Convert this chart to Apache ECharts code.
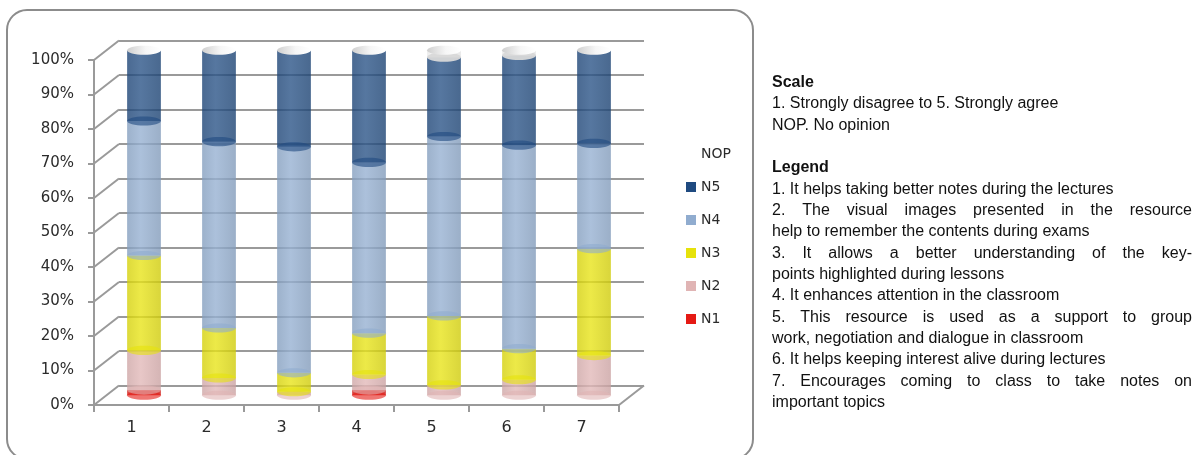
<!DOCTYPE html>
<html>
<head>
<meta charset="utf-8">
<script src="https://cdn.jsdelivr.net/npm/echarts@6/dist/echarts.min.js"></script>
<style>
  html, body { margin: 0; padding: 0; background: #ffffff; }
  #chart { width: 1200px; height: 455px; }
</style>
</head>
<body>
<div id="chart"></div>
<script>
// ---- data: share of answers per statement (percent, stacked to 100) ----
const categories = ['1', '2', '3', '4', '5', '6', '7'];
const n1  = [1.5, 0, 0, 1.5, 0, 0, 0];
const n2  = [11.5, 5, 1, 4.5, 3, 4.5, 11.5];
const n3  = [27.5, 14.5, 5.5, 12, 20, 9, 31];
const n4  = [39, 54, 65.5, 49.5, 52, 59, 30.5];
const n5  = [20.5, 26.5, 28, 32.5, 23, 26, 27];
const nop = [0, 0, 0, 0, 2, 1.5, 0];
const yTicks = [0, 10, 20, 30, 40, 50, 60, 70, 80, 90, 100];
const legendOrder = ['NOP', 'N5', 'N4', 'N3', 'N2', 'N1'];

// ---- side notes ----
const scaleTitle = 'Scale';
const scaleLines = ['1. Strongly disagree to 5. Strongly agree', 'NOP. No opinion'];
const legendTitle = 'Legend';
const statementLines = [
  ['1. It helps taking better notes during the lectures', false],
  ['2. The visual images presented in the resource', true],
  ['help to remember the contents during exams', false],
  ['3. It allows a better understanding of the key-', true],
  ['points highlighted during lessons', false],
  ['4. It enhances attention in the classroom', false],
  ['5. This resource is used as a support to group', true],
  ['work, negotiation and dialogue in classroom', false],
  ['6. It helps keeping interest alive during lectures', false],
  ['7. Encourages coming to class to take notes on', true],
  ['important topics', false]
];

// ---- styling ----
const seriesDefs = [
  { name: 'N1',  values: n1,  color: '#e51a14' },
  { name: 'N2',  values: n2,  color: '#e0b4b4' },
  { name: 'N3',  values: n3,  color: '#e6e20b' },
  { name: 'N4',  values: n4,  color: '#90accf' },
  { name: 'N5',  values: n5,  color: '#1f4a80' },
  { name: 'NOP', values: nop, color: '#ffffff' }
];
const GRID_COLOR = '#9a9a9a';
const LABEL_COLOR = '#2b2b2b';
const AXIS_FONT = 'DejaVu Sans';
const NOTE_FONT = 'Liberation Sans';
const DEPTH = [25, -19.5];      // offset of the back wall from the front axes
const FRONT = { left: 94, top: 60, width: 525, height: 345 };
const BAR_OPACITY = 0.8;

function shade(hex, amt) {
  const n = parseInt(hex.slice(1), 16);
  const r = n >> 16, g = (n >> 8) & 255, b = n & 255;
  const f = v => Math.max(0, Math.min(255, Math.round(amt < 0 ? v * (1 + amt) : v + (255 - v) * amt)));
  return 'rgb(' + f(r) + ',' + f(g) + ',' + f(b) + ')';
}

// stacked [category, from, to] rows per series
const cumulative = categories.map(() => 0);
const stacked = seriesDefs.map(def => def.values.map((v, i) => {
  const from = cumulative[i];
  cumulative[i] += v;
  return [i, from, cumulative[i]];
}));

function cylinderRenderer(color, isTop) {
  const body = new echarts.graphic.LinearGradient(0, 0, 1, 0, [
    { offset: 0, color: shade(color, -0.08) },
    { offset: 0.4, color: shade(color, 0.06) },
    { offset: 1, color: shade(color, -0.1) }
  ]);
  const cap = new echarts.graphic.LinearGradient(0, 0, 1, 0, [
    { offset: 0, color: '#cfcfcf' },
    { offset: 0.55, color: '#f6f6f6' },
    { offset: 1, color: '#ffffff' }
  ]);
  return function (params, api) {
    const cat = api.value(0), lo = api.value(1), hi = api.value(2);
    const pLo = api.coord([cat, lo]);
    const pHi = api.coord([cat, hi]);
    const rx = api.size([1, 0])[0] * 0.225;
    const ry = rx * 0.27;
    const cx = pLo[0];
    const children = [];
    if (hi - lo > 0) {
      children.push({
        type: 'rect',
        shape: { x: cx - rx, y: pHi[1], width: 2 * rx, height: pLo[1] - pHi[1] },
        style: { fill: body, opacity: isTop ? 0.95 : BAR_OPACITY }
      });
      children.push({
        type: 'ellipse',
        shape: { cx: cx, cy: pLo[1], rx: rx, ry: ry },
        style: { fill: isTop ? '#d8d8d8' : color, opacity: isTop ? 0.95 : 0.6 }
      });
    }
    if (isTop) {
      children.push({
        type: 'ellipse',
        shape: { cx: cx, cy: pHi[1], rx: rx, ry: ry },
        style: { fill: cap }
      });
    }
    return { type: 'group', children: children };
  };
}

// diagonal edges of the side wall and floor
function edgeRenderer(params, api) {
  const cat = api.value(0), v = api.value(1), side = api.value(2);
  const p = api.coord([cat, v]);
  const x0 = p[0] + side * api.size([1, 0])[0] / 2;
  return {
    type: 'line',
    shape: { x1: x0, y1: p[1], x2: x0 + DEPTH[0], y2: p[1] + DEPTH[1] },
    style: { stroke: GRID_COLOR, lineWidth: 2 }
  };
}

// justified note text built from individual words
const measureCtx = document.createElement('canvas').getContext('2d');
function noteElements() {
  const x0 = 772, width = 420, y0 = 82.5, pitch = 21.35;
  const els = [];
  const rows = [];
  rows.push({ text: scaleTitle, bold: true });
  scaleLines.forEach(t => rows.push({ text: t }));
  rows.push(null);
  rows.push({ text: legendTitle, bold: true });
  statementLines.forEach(s => rows.push({ text: s[0], justify: s[1] }));
  rows.forEach((row, i) => {
    if (!row) return;
    const y = y0 + i * pitch;
    const weight = row.bold ? 'bold' : 'normal';
    const style = { fill: '#111111', fontSize: 16, fontFamily: NOTE_FONT, fontWeight: weight,
                    verticalAlign: 'middle', align: 'left' };
    if (!row.justify) {
      els.push({ type: 'text', x: x0, y: y, silent: true, style: Object.assign({ text: row.text }, style) });
      return;
    }
    measureCtx.font = weight + ' 16px "' + NOTE_FONT + '"';
    const words = row.text.split(' ');
    const widths = words.map(w => measureCtx.measureText(w).width);
    const total = widths.reduce((a, b) => a + b, 0);
    const gap = (width - total) / (words.length - 1);
    let x = x0;
    words.forEach((w, k) => {
      els.push({ type: 'text', x: x, y: y, silent: true, style: Object.assign({ text: w }, style) });
      x += widths[k] + gap;
    });
  });
  return els;
}

const chart = echarts.init(document.getElementById('chart'));

const hiddenCat = { type: 'category', data: categories, show: false };
const hiddenVal = { type: 'value', min: 0, max: 100, interval: 10, show: false };

const option = {
  backgroundColor: '#ffffff',
  animation: false,
  grid: [
    // front axes
    { left: FRONT.left, top: FRONT.top, width: FRONT.width, height: FRONT.height },
    // back wall
    { left: FRONT.left + DEPTH[0], top: FRONT.top + DEPTH[1], width: FRONT.width, height: FRONT.height },
    // middle depth, where the cylinders stand
    { left: FRONT.left + DEPTH[0] / 2, top: FRONT.top + DEPTH[1] / 2, width: FRONT.width, height: FRONT.height }
  ],
  xAxis: [
    {
      gridIndex: 0, type: 'category', data: categories,
      axisLine: { lineStyle: { color: GRID_COLOR, width: 2 } },
      axisTick: { show: true, length: 7, lineStyle: { color: GRID_COLOR, width: 2 } },
      axisLabel: { color: LABEL_COLOR, fontFamily: AXIS_FONT, fontSize: 16, margin: 15 },
      splitLine: { show: false }
    },
    Object.assign({ gridIndex: 1 }, hiddenCat),
    Object.assign({ gridIndex: 2 }, hiddenCat)
  ],
  yAxis: [
    {
      gridIndex: 0, type: 'value', min: 0, max: 100, interval: 10,
      axisLine: { show: true, lineStyle: { color: GRID_COLOR, width: 2 } },
      axisTick: { show: true, length: 6, lineStyle: { color: GRID_COLOR, width: 2 } },
      axisLabel: { formatter: '{value}%', color: LABEL_COLOR, fontFamily: AXIS_FONT, fontSize: 15, margin: 20 },
      splitLine: { show: false }
    },
    {
      gridIndex: 1, type: 'value', min: 0, max: 100, interval: 10,
      axisLine: { show: false }, axisTick: { show: false }, axisLabel: { show: false },
      splitLine: { show: true, lineStyle: { color: GRID_COLOR, width: 2 } }
    },
    Object.assign({ gridIndex: 2 }, hiddenVal)
  ],
  legend: {
    data: legendOrder,
    orient: 'vertical',
    left: 681,
    top: 142,
    itemWidth: 10,
    itemHeight: 10,
    itemGap: 19,
    icon: 'rect',
    selectedMode: false,
    textStyle: { color: LABEL_COLOR, fontFamily: AXIS_FONT, fontSize: 14 }
  },
  graphic: [
    {
      type: 'rect', silent: true, z: -10,
      shape: { x: 7, y: 10, width: 746, height: 449, r: 20 },
      style: { fill: 'none', stroke: '#8c8c8c', lineWidth: 2 }
    },
    {
      type: 'group', silent: true,
      children: noteElements()
    }
  ],
  series: [
    {
      type: 'custom', name: 'edges', silent: true,
      xAxisIndex: 0, yAxisIndex: 0,
      data: yTicks.map(v => [0, v, -1]).concat([[categories.length - 1, 0, 1]]),
      encode: { x: 0, y: 1 },
      renderItem: edgeRenderer
    }
  ].concat(seriesDefs.map((def, si) => ({
    type: 'custom',
    name: def.name,
    xAxisIndex: 2, yAxisIndex: 2,
    itemStyle: { color: def.color },
    data: stacked[si],
    encode: { x: 0, y: [1, 2] },
    renderItem: cylinderRenderer(def.color, si === seriesDefs.length - 1)
  })))
};

chart.setOption(option);
</script>
</body>
</html>
